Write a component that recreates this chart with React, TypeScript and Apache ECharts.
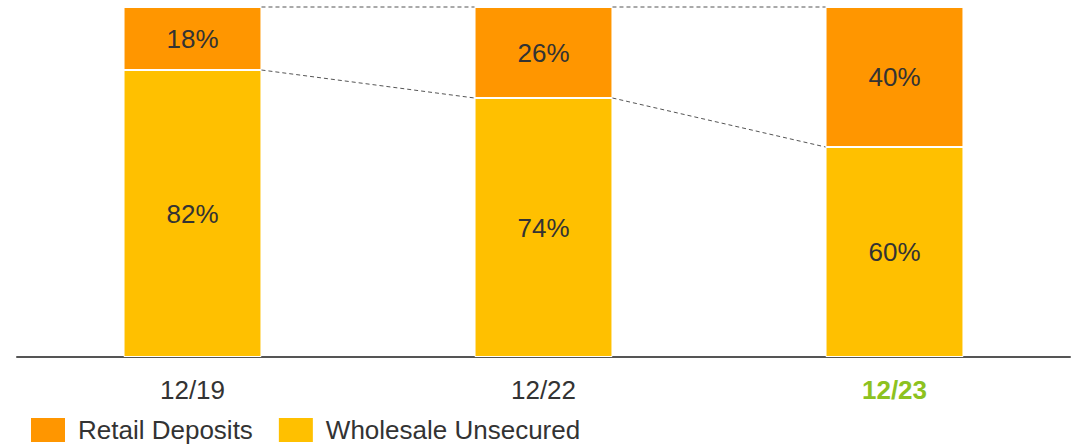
import React, { useEffect, useRef } from "react";
import * as echarts from "echarts";

const categories = ["12/19", "12/22", "12/23"];
const wholesale = [82, 74, 60];
const retail = [18, 26, 40];
const seriesNames = ["Retail Deposits", "Wholesale Unsecured"];

const ORANGE = "#FF9600";
const YELLOW = "#FFC000";
const FONT = "'Liberation Sans', Arial, sans-serif";
const BAR_RATIO = 0.393;

export default function App() {
  const ref = useRef<HTMLDivElement>(null);
  useEffect(() => {
    if (!ref.current) return;
    const chart = echarts.init(ref.current, null, { renderer: "svg" });
    const totals = wholesale.map((w, i) => w + retail[i]);
    const connectorData: number[][] = [];
    for (let i = 0; i < categories.length - 1; i++) {
      connectorData.push([i, totals[i], totals[i + 1]]);
      connectorData.push([i, wholesale[i], wholesale[i + 1]]);
    }
    const labelStyle = { show: true, position: "inside", formatter: "{c}%", fontSize: 26, color: "#333333", fontFamily: FONT };
    chart.setOption({
      animation: false,
      textStyle: { fontFamily: FONT },
      grid: { left: 17, right: 6, top: 7, bottom: 89, containLabel: false },
      legend: {
        data: seriesNames,
        left: 29,
        top: 416,
        padding: 0,
        itemWidth: 36,
        itemHeight: 26,
        itemGap: 24,
        icon: "rect",
        textStyle: { fontSize: 26, lineHeight: 26, color: "#333333", fontFamily: FONT, padding: [0, 0, 0, 7] },
      },
      xAxis: {
        type: "category",
        data: categories,
        axisLine: { lineStyle: { color: "#555555", width: 2 } },
        axisTick: { show: false },
        axisLabel: {
          margin: 20,
          fontSize: 26,
          color: "#333333",
          fontFamily: FONT,
          formatter: (v: string) => (v === "12/23" ? "{hl|" + v + "}" : v),
          rich: { hl: { color: "#8DC21F", fontWeight: "bold", fontSize: 26, fontFamily: FONT } },
        },
      },
      yAxis: { type: "value", min: 0, max: 100, show: false, splitLine: { show: false } },
      series: [
        {
          name: "Wholesale Unsecured",
          type: "bar",
          stack: "t",
          data: wholesale,
          barWidth: (BAR_RATIO * 100).toFixed(1) + "%",
          itemStyle: { color: YELLOW, borderColor: "#ffffff", borderWidth: 1 },
          label: labelStyle,
        },
        {
          name: "Retail Deposits",
          type: "bar",
          stack: "t",
          data: retail,
          itemStyle: { color: ORANGE, borderColor: "#ffffff", borderWidth: 1 },
          label: labelStyle,
        },
        {
          type: "custom",
          silent: true,
          z: 5,
          data: connectorData,
          renderItem: (params: any, api: any) => {
            const i = api.value(0);
            const p1 = api.coord([i, api.value(1)]);
            const p2 = api.coord([i + 1, api.value(2)]);
            const half = (api.size([1, 0])[0] * BAR_RATIO) / 2;
            return {
              type: "line",
              shape: { x1: p1[0] + half, y1: p1[1], x2: p2[0] - half, y2: p2[1] },
              style: { stroke: "#555555", lineWidth: 1, lineDash: [4, 3] },
            };
          },
        },
      ],
    });
    return () => chart.dispose();
  }, []);
  return <div ref={ref} style={{ width: 1076, height: 446, position: "absolute", left: 0, top: 0 }} />;
}
